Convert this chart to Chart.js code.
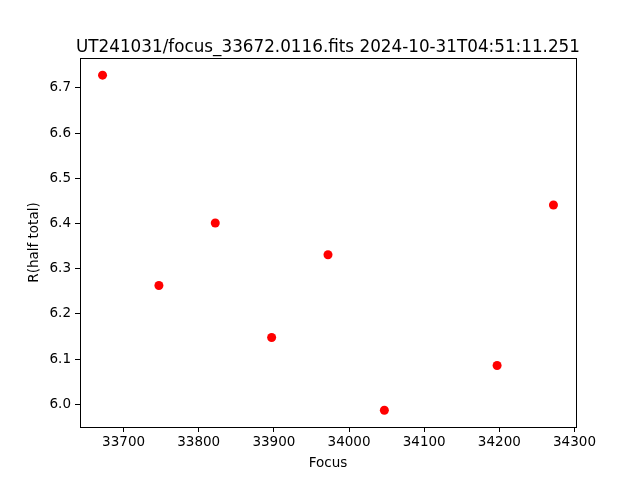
<!DOCTYPE html>
<html lang="en">
<head>
    <meta charset="UTF-8">
    <title>Focus scan</title>
    <style>
        body { margin: 0; background: #fff; }
        #wrap { width: 640px; height: 480px; }
    </style>
</head>
<body>
    <div id="wrap"><canvas id="focusChart" width="640" height="480"></canvas></div>

    <script src="https://cdn.jsdelivr.net/npm/chart.js"></script>
    <script>
        // values
        const chartTitle = 'UT241031/focus_33672.0116.fits 2024-10-31T04:51:11.251';
        const focusValues = [33672, 33747, 33822, 33897, 33972, 34047, 34197, 34272];
        const rHalfTotal = [6.728, 6.263, 6.401, 6.148, 6.331, 5.987, 6.086, 6.441];
        const xTicks = [33700, 33800, 33900, 34000, 34100, 34200, 34300];
        const yTicks = [6.0, 6.1, 6.2, 6.3, 6.4, 6.5, 6.6, 6.7];

        const tickFont = { family: 'DejaVu Sans', size: 13.5 };

        // matplotlib-style frame and centred title
        const framePlugin = {
            id: 'frame',
            afterDraw(chart) {
                const { ctx, chartArea: a } = chart;
                ctx.save();
                ctx.strokeStyle = '#000';
                ctx.lineWidth = 1;
                ctx.strokeRect(a.left + 0.5, a.top + 0.5, a.right - a.left, a.bottom - a.top);
                ctx.fillStyle = '#000';
                ctx.font = '16.8px "DejaVu Sans"';
                ctx.textAlign = 'center';
                ctx.textBaseline = 'alphabetic';
                ctx.fillText(chartTitle, (a.left + a.right) / 2, a.top - 6);
                ctx.restore();
            }
        };

        new Chart(document.getElementById('focusChart'), {
            type: 'scatter',
            data: {
                datasets: [{
                    data: focusValues.map((f, i) => ({ x: f, y: rHalfTotal[i] })),
                    backgroundColor: '#ff0000',
                    borderWidth: 0,
                    pointRadius: 4.5,
                    pointHoverRadius: 4.5
                }]
            },
            options: {
                responsive: false,
                animation: false,
                layout: { padding: { top: 58, right: 64, left: 0, bottom: 0 } },
                plugins: {
                    legend: { display: false },
                    tooltip: { enabled: false }
                },
                scales: {
                    x: {
                        type: 'linear',
                        min: 33642,
                        max: 34302,
                        afterFit: s => { s.height = 53; },
                        afterBuildTicks: s => { s.ticks = xTicks.map(v => ({ value: v })); },
                        grid: { drawOnChartArea: false, tickLength: 5, tickColor: '#000', tickWidth: 1 },
                        border: { display: false },
                        ticks: { color: '#000', font: tickFont, padding: 2, maxRotation: 0, callback: v => String(v) },
                        title: { display: true, text: 'Focus', color: '#000', font: tickFont, padding: { top: 0, bottom: 8 } }
                    },
                    y: {
                        type: 'linear',
                        min: 5.950,
                        max: 6.766,
                        afterFit: s => { s.width = 80; },
                        afterBuildTicks: s => { s.ticks = yTicks.map(v => ({ value: v })); },
                        grid: { drawOnChartArea: false, tickLength: 5, tickColor: '#000', tickWidth: 1 },
                        border: { display: false },
                        ticks: { color: '#000', font: tickFont, padding: 4, callback: v => v.toFixed(1) },
                        title: { display: true, text: 'R(half total)', color: '#000', font: tickFont, padding: { top: 26, bottom: 0 } }
                    }
                }
            },
            plugins: [framePlugin]
        });
    </script>
</body>
</html>
